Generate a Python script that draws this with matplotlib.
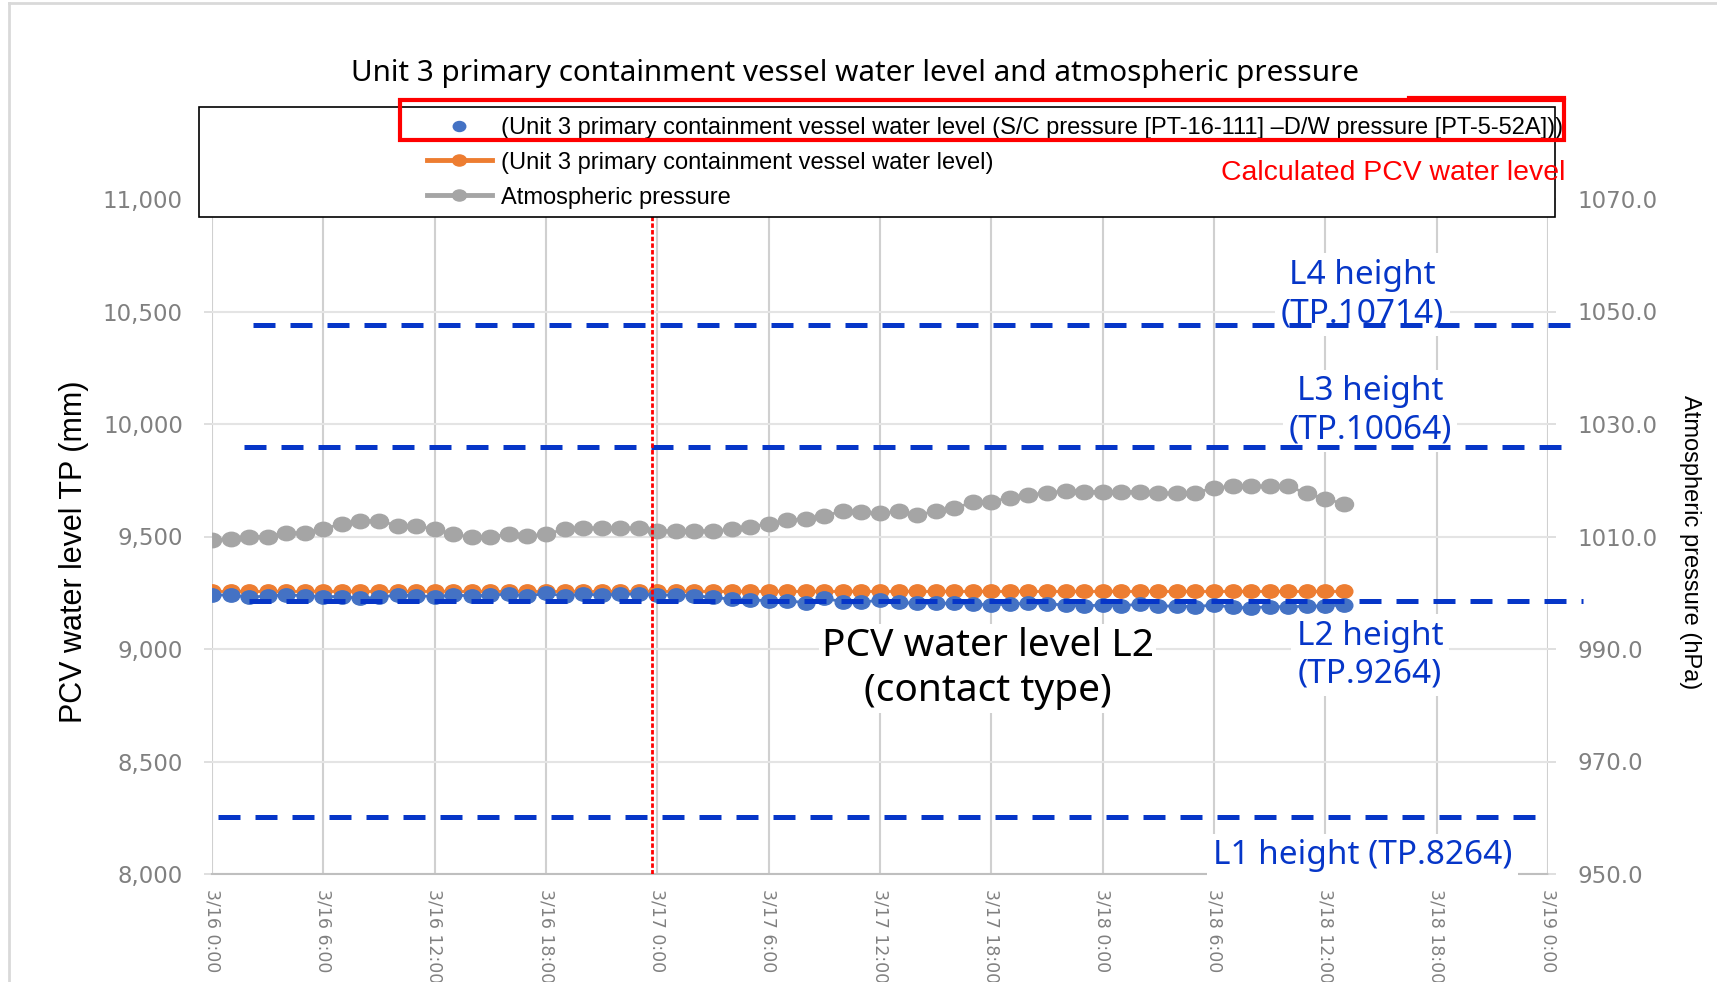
import numpy as np
import matplotlib
matplotlib.use('Agg')
import matplotlib.pyplot as plt
from matplotlib.lines import Line2D
from matplotlib.patches import Rectangle
from matplotlib.path import Path
from matplotlib.transforms import Affine2D

# hourly readings starting 3/16 0:00
hours = np.arange(62)

# calculated PCV water level (S/C pressure - D/W pressure), mm
pcv_calc_mm = [9240, 9240, 9230, 9236, 9240, 9237, 9233, 9233, 9225, 9230,
               9240, 9237, 9233, 9240, 9236, 9240, 9244, 9236, 9247, 9236,
               9244, 9240, 9244, 9244, 9240, 9240, 9236, 9230, 9221, 9218,
               9215, 9214, 9206, 9225, 9210, 9207, 9218, 9207, 9203, 9203,
               9203, 9200, 9196, 9200, 9203, 9200, 9196, 9191, 9196, 9191,
               9200, 9191, 9191, 9188, 9196, 9185, 9183, 9188, 9188, 9190,
               9191, 9196]

# PCV water level (contact type L2), mm
pcv_level_mm = [9260, 9260, 9260, 9260, 9260, 9260, 9260, 9260, 9260, 9260,
                9260, 9260, 9260, 9260, 9260, 9260, 9260, 9260, 9260, 9260,
                9260, 9260, 9260, 9260, 9260, 9260, 9260, 9260, 9260, 9260,
                9260, 9260, 9260, 9260, 9260, 9260, 9260, 9260, 9260, 9260,
                9260, 9260, 9260, 9260, 9260, 9260, 9260, 9260, 9260, 9260,
                9260, 9260, 9260, 9260, 9260, 9260, 9260, 9260, 9260, 9260,
                9260, 9260]

# atmospheric pressure, hPa
atm_hpa = [1009.4, 1009.6, 1010.0, 1010.0, 1010.6, 1010.7, 1011.3, 1012.3, 1012.8, 1012.8,
           1011.9, 1011.9, 1011.3, 1010.4, 1009.9, 1010.0, 1010.4, 1010.1, 1010.4, 1011.3,
           1011.5, 1011.5, 1011.5, 1011.5, 1011.0, 1011.0, 1011.0, 1011.0, 1011.3, 1011.7,
           1012.3, 1012.85, 1013.2, 1013.7, 1014.5, 1014.3, 1014.1, 1014.5, 1013.8, 1014.5,
           1015.0, 1016.1, 1016.2, 1016.9, 1017.4, 1017.8, 1018.1, 1018.0, 1018.0, 1018.0,
           1018.0, 1017.7, 1017.7, 1017.8, 1018.6, 1019.0, 1019.0, 1018.9, 1018.9, 1017.7,
           1016.7, 1015.8]

xtick_hours = [0, 6, 12, 18, 24, 30, 36, 42, 48, 54, 60, 66, 72]
xtick_labels = ['3/16 0:00', '3/16 6:00', '3/16 12:00', '3/16 18:00',
                '3/17 0:00', '3/17 6:00', '3/17 12:00', '3/17 18:00',
                '3/18 0:00', '3/18 6:00', '3/18 12:00', '3/18 18:00', '3/19 0:00']
left_ticks = [8000, 8500, 9000, 9500, 10000, 10500, 11000]
right_ticks = [950, 970, 990, 1010, 1030, 1050, 1070]

legend_labels = ['(Unit 3 primary containment vessel water level (S/C pressure [PT-16-111] \u2013D/W pressure [PT-5-52A]))',
                 '(Unit 3 primary containment vessel water level)',
                 'Atmospheric pressure']

# level marker lines (as drawn in the chart) and their labels
level_texts = ['L4 height\n(TP.10714)', 'L3 height\n(TP.10064)', 'L2 height\n(TP.9264)', 'L1 height (TP.8264)']
level_line_mm = [10440, 9900, 9212, 8252]
level_line_from = [2.2, 1.7, 2.0, 0.3]
level_line_to = [73.9, 73.4, 73.9, 72.0]
level_text_hour = [62.0, 62.4, 62.4, 62.0]
level_text_mm = [10575, 10058, 8972, 8080]
event_hour = 23.7

W, H = 1717, 982
def fx(px):
    return px / W
def fy(py):
    return 1 - py / H

blue = '#4472C4'
orange = '#ED7D31'
grey = '#A5A5A5'
lvl_blue = '#0636C8'
tick_grey = '#808080'
sans = ['Liberation Sans', 'DejaVu Sans']
noto = ['Noto Sans', 'DejaVu Sans']

ellipse = Path.unit_circle().transformed(Affine2D().scale(1.0, 0.8))

fig = plt.figure(figsize=(W / 100, H / 100), dpi=100)
ax = fig.add_axes([fx(212), fy(874), (1548 - 212) / W, (874 - 199) / H])
ax2 = ax.twinx()

ax.set_xlim(0, 72)
ax.set_ylim(8000, 11000)
ax2.set_ylim(950, 1070)

ax.set_xticks(xtick_hours)
ax.set_xticklabels(xtick_labels, rotation=270, fontsize=12.5, color=tick_grey)
ax.set_yticks(left_ticks)
ax.set_yticklabels([f'{v:,}' for v in left_ticks], fontsize=16.5, color=tick_grey)
ax2.set_yticks(right_ticks)
ax2.set_yticklabels([f'{v:.1f}' for v in right_ticks], fontsize=16.5, color=tick_grey)

ax.tick_params(axis='x', length=0, pad=11)
ax.tick_params(axis='y', length=6, color='#d9d9d9', width=1.2, pad=15)
ax2.tick_params(axis='y', length=6, color='#d9d9d9', width=1.2, pad=15)

for a in (ax, ax2):
    for s in a.spines.values():
        s.set_visible(False)
ax.spines['bottom'].set_visible(True)
ax.spines['bottom'].set_color('#bfbfbf')
ax.spines['bottom'].set_linewidth(1.5)

ax.set_axisbelow(True)
ax.grid(axis='x', color='#d0d0d0', lw=1.5)
ax.grid(axis='y', color='#e4e4e4', lw=1.5)

ax.plot(hours, pcv_level_mm, color=orange, lw=2, marker=ellipse, ms=12, zorder=3)
ax.plot(hours, pcv_calc_mm, color=blue, lw=2, marker=ellipse, ms=12, zorder=3.5)
ax2.plot(hours, atm_hpa, color=grey, lw=2, marker=ellipse, ms=13, zorder=3)

for i in range(len(level_texts)):
    ax.plot([level_line_from[i], level_line_to[i]], [level_line_mm[i], level_line_mm[i]],
            color=lvl_blue, lw=3.6, linestyle=(0, (4.4, 3.0)), clip_on=False, zorder=5)
    ax.text(level_text_hour[i], level_text_mm[i], level_texts[i], color=lvl_blue,
            fontsize=24, family=noto, ha='center', va='center', linespacing=1.2,
            bbox=dict(facecolor='white', edgecolor='none', pad=4), zorder=2.8)

ax.text(41.8, 8912, 'PCV water level L2\n(contact type)', fontsize=28, family=noto,
        ha='center', va='center', linespacing=1.25,
        bbox=dict(facecolor='white', edgecolor='none', pad=2), zorder=2.8)

ax2.axvline(event_hour, color='red', lw=2, linestyle=(0, (1.6, 0.8)), zorder=6)

# chart area border
fig.add_artist(Line2D([fx(9), fx(9)], [0, fy(3)], color='#d9d9d9', lw=2))
fig.add_artist(Line2D([fx(9), 1], [fy(3), fy(3)], color='#d9d9d9', lw=2))

fig.text(fx(855), fy(73), 'Unit 3 primary containment vessel water level and atmospheric pressure',
         ha='center', va='center', fontsize=21.3, family=noto)
fig.text(fx(74), fy(552), 'PCV water level TP (mm)', rotation=90, ha='center', va='center',
         fontsize=22, family=sans)
fig.text(fx(1690), fy(542), 'Atmospheric pressure (hPa)', rotation=270, ha='center', va='center',
         fontsize=17, family=sans)

# legend box
fig.add_artist(Rectangle((fx(199), fy(217)), (1555 - 199) / W, (217 - 107) / H,
                         transform=fig.transFigure, facecolor='white', edgecolor='black',
                         lw=1.2, zorder=10))
handles = [Line2D([], [], color=blue, marker=ellipse, ms=9, ls='none'),
           Line2D([], [], color=orange, marker=ellipse, ms=10, lw=3.5),
           Line2D([], [], color=grey, marker=ellipse, ms=10, lw=3.5)]
leg = fig.legend(handles, legend_labels, loc='upper left', bbox_to_anchor=(fx(427), fy(117)),
                 frameon=False, prop=dict(family=sans, size=17), handlelength=2.75,
                 handletextpad=0.4, labelspacing=0.54, borderpad=0, borderaxespad=0)
leg.set_zorder(11)

# highlight of the calculated series
fig.add_artist(Rectangle((fx(400), fy(140)), (1564 - 400) / W, 40 / H,
                         transform=fig.transFigure, facecolor='none', edgecolor='red',
                         lw=3, zorder=12))
fig.add_artist(Line2D([fx(1409), fx(1564)], [fy(98), fy(98)], color='red', lw=3, zorder=12))
fig.text(fx(1565), fy(173), 'Calculated PCV water level', color='red', ha='right', va='center',
         fontsize=20.4, family=sans, zorder=12)

fig.savefig('out.png', dpi=100)
